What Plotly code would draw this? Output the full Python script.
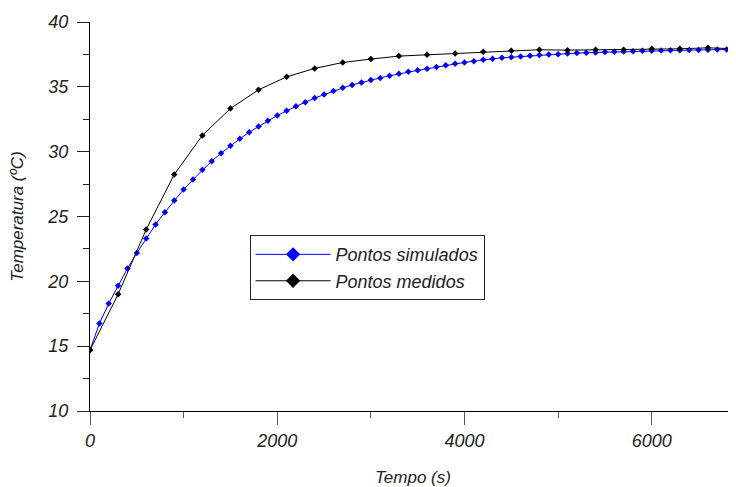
import plotly.graph_objects as go

# Simulated points (every 100 s, up to 6800 s)
t_sim = list(range(0, 6900, 100))
T_sim = [14.70, 16.74, 18.29, 19.65, 20.99, 22.19, 23.30, 24.38, 25.33, 26.23,
         27.08, 27.85, 28.60, 29.27, 29.88, 30.45, 30.99, 31.50, 31.94, 32.38,
         32.79, 33.15, 33.51, 33.82, 34.13, 34.41, 34.67, 34.92, 35.15, 35.34,
         35.52, 35.69, 35.85, 36.00, 36.16, 36.27, 36.39, 36.52, 36.67, 36.78,
         36.88, 36.98, 37.09, 37.16, 37.24, 37.29, 37.34, 37.39, 37.45, 37.50,
         37.52, 37.57, 37.60, 37.63, 37.65, 37.68, 37.70, 37.73, 37.75, 37.78,
         37.79, 37.80, 37.82, 37.83, 37.84, 37.85, 37.86, 37.87, 37.88]

# Measured points (every 300 s)
t_med = list(range(0, 7000, 300))
T_med = [14.70, 19.00, 24.00, 28.24, 31.25, 33.33, 34.77, 35.77, 36.42, 36.88,
         37.14, 37.37, 37.47, 37.57, 37.70, 37.78, 37.86, 37.83, 37.86, 37.86,
         37.93, 37.93, 38.01, 37.93]

x_ticks = [0, 2000, 4000, 6000]
y_ticks = [10, 15, 20, 25, 30, 35, 40]
series_names = ["Pontos simulados", "Pontos medidos"]
series_colors = ["#0000ff", "#000000"]

FONT = "Liberation Sans, Arial, sans-serif"
TXT = "#222222"

fig = go.Figure()
for (xs, ys), name, col in zip([(t_sim, T_sim), (t_med, T_med)], series_names, series_colors):
    fig.add_trace(go.Scatter(
        x=xs, y=ys, mode="lines+markers", name=name, showlegend=False,
        line=dict(color=col, width=1),
        marker=dict(symbol="diamond", size=5, color=col),
    ))
# legend entries (larger symbols, as in the reference legend)
for name, col in zip(series_names, series_colors):
    fig.add_trace(go.Scatter(
        x=[None], y=[None], mode="lines+markers", name=name, showlegend=True,
        line=dict(color=col, width=1),
        marker=dict(symbol="diamond", size=11, color=col),
    ))

# the page body has an 8px margin: figure is sized to fill the visible window
fig.update_layout(
    width=728, height=479,
    margin=dict(l=81.5, r=0, t=14, b=76.3),
    paper_bgcolor="white", plot_bgcolor="white",
    font=dict(family=FONT, size=17, color=TXT, style="italic"),
    showlegend=True,
    legend=dict(
        x=0.247, y=0.452, xanchor="left", yanchor="top",
        bordercolor="#222222", borderwidth=1, bgcolor="white",
        font=dict(family=FONT, size=18, color=TXT, style="italic"),
        itemwidth=75, tracegroupgap=0,
    ),
    xaxis=dict(
        range=[0, 6900], automargin=False,
        tickvals=x_ticks, ticktext=[str(v) for v in x_ticks],
        ticks="outside", ticklen=13, tickcolor="#555555", tickwidth=1,
        ticklabelstandoff=0,
        minor=dict(dtick=1000, tick0=0, ticks="outside", ticklen=6, tickcolor="#555555"),
        showline=True, linecolor="#000000", linewidth=1,
        showgrid=False, zeroline=False,
        tickfont=dict(family=FONT, size=18, color=TXT, style="italic"),
        title=dict(text="Tempo (s)", standoff=26,
                   font=dict(family=FONT, size=17, color=TXT, style="italic")),
    ),
    yaxis=dict(
        range=[10, 40], automargin=False,
        tickvals=y_ticks, ticktext=[str(v) for v in y_ticks],
        ticks="outside", ticklen=12, tickcolor="#222222", tickwidth=1,
        ticklabelstandoff=5,
        minor=dict(dtick=2.5, tick0=10, ticks="outside", ticklen=6, tickcolor="#222222"),
        showline=True, linecolor="#000000", linewidth=1,
        showgrid=False, zeroline=False,
        tickfont=dict(family=FONT, size=18, color=TXT, style="italic"),
        title=dict(text="Temperatura (ºC)", standoff=20,
                   font=dict(family=FONT, size=17, color=TXT, style="italic")),
    ),
)

fig.write_html("out.html")
